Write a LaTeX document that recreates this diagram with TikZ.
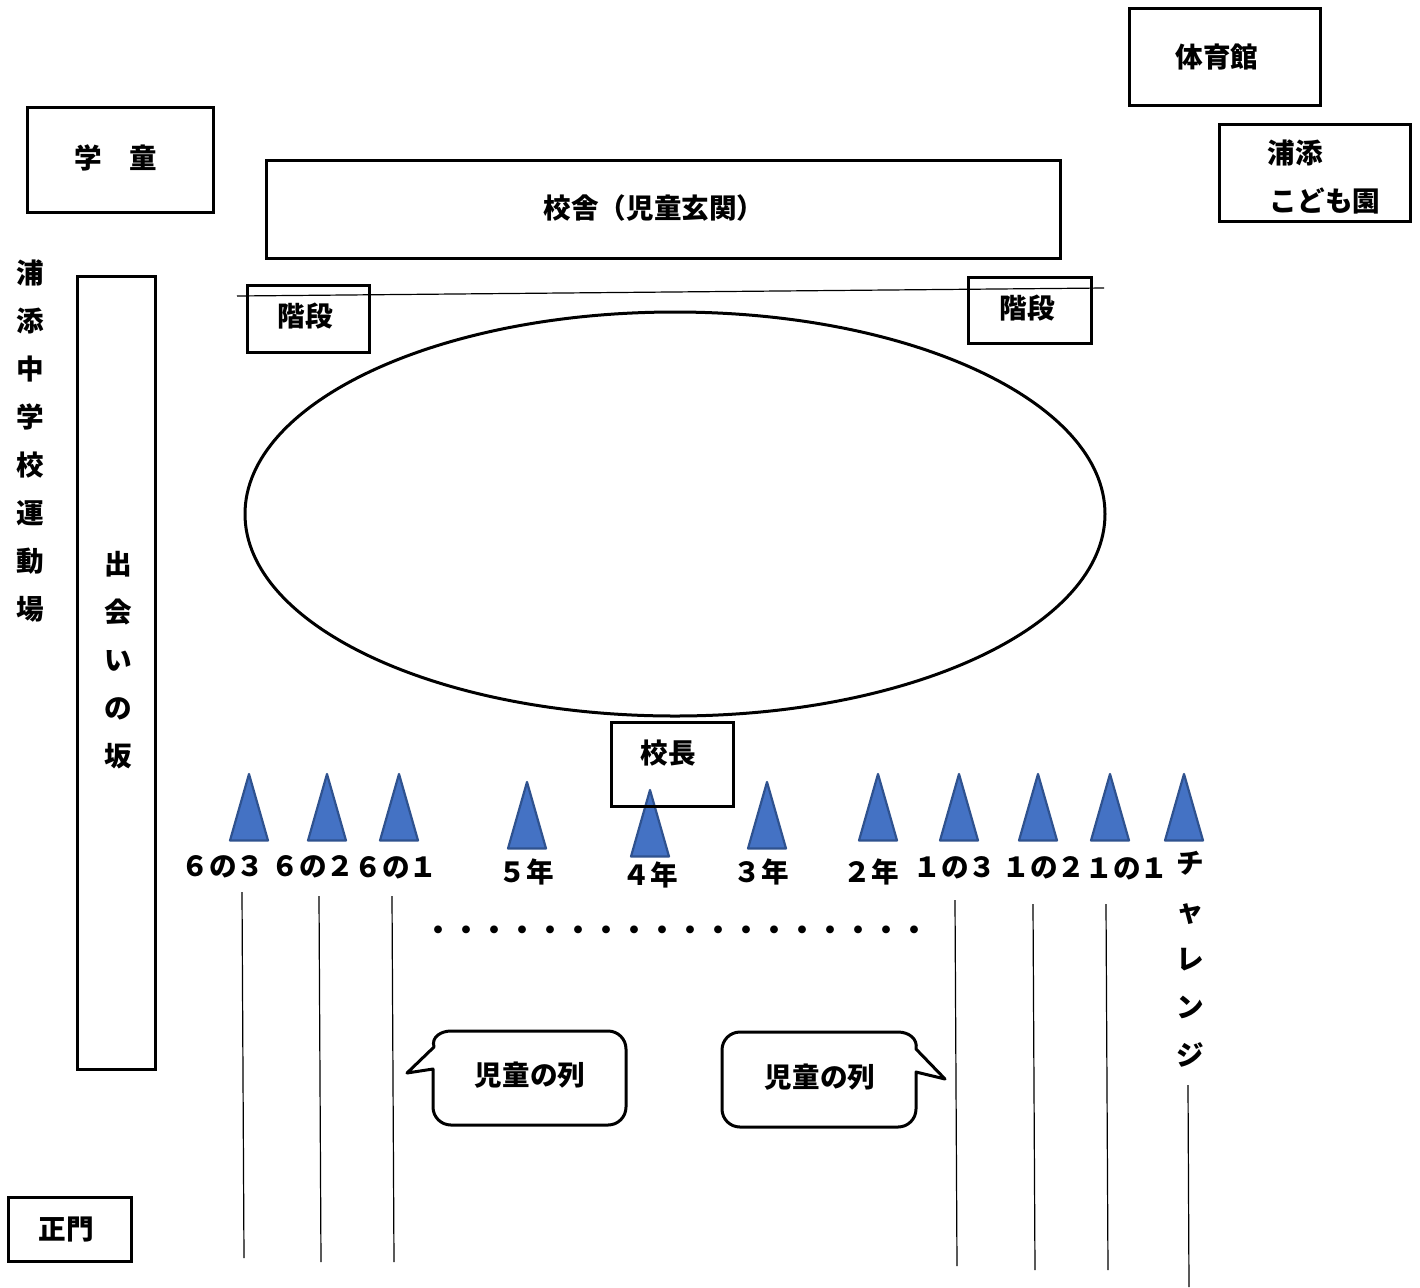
\documentclass[tikz,border=0pt]{standalone}
\usepackage{fontspec}
\setmainfont{Noto Sans CJK JP}
\definecolor{triFill}{HTML}{4472C4}
\definecolor{triLine}{HTML}{2F528F}
\tikzset{
  x=0.5pt,y=-0.5pt,
  boxshape/.style={draw=black,line width=1.5pt},
  curve/.style={draw=black,line width=1.5pt,line join=round},
  thinline/.style={draw=black,line width=0.6pt},
  tree/.style={fill=triFill,draw=triLine,line width=1.1pt,line join=round},
  lbl/.style={inner sep=0pt,font=\fontsize{13.8}{24}\selectfont\bfseries,align=center},
}
\begin{document}
\begin{tikzpicture}
\useasboundingbox (0,0) rectangle (1420,1287);
\fill[white] (0,0) rectangle (1420,1287);
% triangles
\foreach \n/\cx/\ty in {a/249/773,b/327/773,c/399/773,d/527/781,e/650/789,f/767/781,g/878/773,h/959/773,i/1038/773,j/1110/773,k/1184/773}{
  \draw[tree] (\cx,\ty+1) -- (\cx+19,\ty+67.5) -- (\cx-19,\ty+67.5) -- cycle;
}
% boxes
\draw[boxshape] (1129,8) rectangle (1320,105);
\draw[boxshape] (1219,124) rectangle (1410,221);
\draw[boxshape] (27,107) rectangle (213,212);
\draw[boxshape] (266,160) rectangle (1060,258);
\draw[boxshape] (247,285) rectangle (369,352);
\draw[boxshape] (968,277) rectangle (1091,343);
\draw[boxshape] (77,276) rectangle (155,1069);
\draw[boxshape] (611,722) rectangle (733,806);
\draw[boxshape] (8,1197) rectangle (131,1261);
% ground
\draw[curve] (675,514) ellipse [x radius=430,y radius=202];
% callouts
\draw[curve] (451,1031) -- (608,1031) .. controls (618,1031) and (626,1039) .. (626,1049)
  -- (626,1107) .. controls (626,1117) and (618,1125) .. (608,1125)
  -- (451,1125) .. controls (441,1125) and (433,1117) .. (433,1107)
  -- (433,1069) -- (407,1073) -- (434,1047) .. controls (431,1037) and (441,1031) .. (451,1031) -- cycle;
\draw[curve] (740,1032) -- (898,1032) .. controls (909,1032) and (918,1039) .. (916,1049)
  -- (945,1079) -- (916,1072)
  -- (916,1109) .. controls (916,1119) and (908,1127) .. (898,1127)
  -- (740,1127) .. controls (730,1127) and (722,1119) .. (722,1109)
  -- (722,1050) .. controls (722,1040) and (730,1032) .. (740,1032) -- cycle;
% lines
\coordinate (hA) at (237,296); \coordinate (hB) at (1104,288);
\draw[thinline] (hA) -- (hB);
\foreach \n/\xa/\ya/\xb/\yb in {a/242/892/244/1258,b/319/896/321/1262,c/392/896/394/1262,d/955/900/957/1266,e/1033/904/1035/1270,f/1106/904/1108/1270,g/1188/1085/1189/1287}{
  \coordinate (v\n1) at (\xa,\ya); \coordinate (v\n2) at (\xb,\yb);
  \draw[thinline] (v\n1) -- (v\n2);
}
% texts
\node[lbl] (gym) at (1217,57) {体育館};
\node[lbl] (kin1) at (1295,153) {浦添};
\node[lbl] (kin2) at (1325,201) {こども園};
\node[lbl] (club) at (116,158) {学　童};
\node[lbl] (main) at (654,208) {校舎（児童玄関）};
\node[lbl] (st1) at (305,316) {階段};
\node[lbl] (st2) at (1027,308) {階段};
\node[lbl] (head) at (668,753) {校長};
\node[lbl] (gate) at (66,1229) {正門};
\node[lbl] (row1) at (530,1075) {児童の列};
\node[lbl] (row2) at (820,1077) {児童の列};
\node[lbl] (jhs) at (30,441) {浦\\添\\中\\学\\校\\運\\動\\場};
\node[lbl] (slope) at (118,660) {出\\会\\い\\の\\坂};
\node[lbl] (chal) at (1190,959) {チ\\ャ\\レ\\ン\\ジ};
\node[lbl] (c63) at (223,867) {６の３};
\node[lbl] (c62) at (313,867) {６の２};
\node[lbl] (c61) at (396,868) {６の１};
\node[lbl] (g5) at (526,872) {５年};
\node[lbl] (g4) at (650,875) {４年};
\node[lbl] (g3) at (761,872) {３年};
\node[lbl] (g2) at (871,872) {２年};
\node[lbl] (c13) at (955,868) {１の３};
\node[lbl] (c12) at (1044,868) {１の２};
\node[lbl] (c11) at (1127,869) {１の１};
\node[lbl,font=\fontsize{14}{24}\selectfont\bfseries] (dots) at (676,933) {・・・・・・・・・・・・・・・・・・};
\end{tikzpicture}
\end{document}
